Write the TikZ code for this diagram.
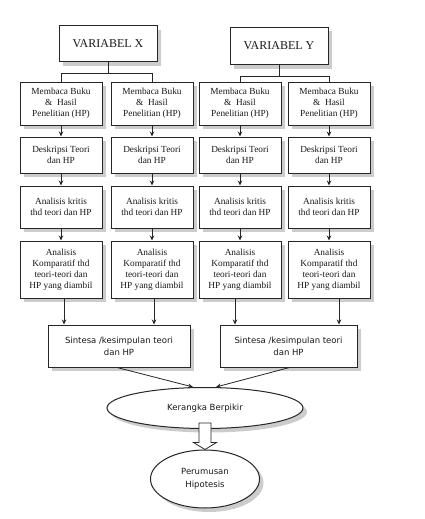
\documentclass[tikz,border=0pt]{standalone}
\usepackage{fontspec}
\setmainfont{Liberation Serif}
\newfontfamily\vsans{DejaVu Sans}
\usetikzlibrary{shapes.geometric,shadows,arrows.meta,calc}
\begin{document}
\begin{tikzpicture}[x=1pt,y=-1pt,
  shd/.style={drop shadow={shadow xshift=4pt,shadow yshift=-4pt,fill=black!20,opacity=1}},
  box/.style={draw=black!85,line width=1pt,fill=white,align=center,inner sep=1pt,shd,
    text=black!90,font=\fontsize{9.3}{11}\selectfont},
  vbox/.style={box,minimum width=98pt,font=\fontsize{12}{14}\selectfont},
  r1/.style={box,minimum width=82pt,minimum height=43pt},
  r2/.style={box,minimum width=82pt,minimum height=36pt},
  r3/.style={box,minimum width=82pt,minimum height=42pt},
  r4/.style={box,minimum width=82pt,minimum height=57pt},
  sbox/.style={box,minimum height=42pt,font=\vsans\fontsize{8.5}{12}\selectfont},
  ell/.style={draw=black!85,line width=1pt,fill=white,ellipse,inner sep=0pt,align=center,shd,
    text=black!90,font=\vsans\fontsize{8.5}{12.5}\selectfont},
  arr/.style={-{Stealth[length=5pt,width=4.5pt]},line width=0.8pt,draw=black!85},
  ln/.style={line width=0.8pt,draw=black!85}]
\fill[white] (0,0) rectangle (424,519);
\useasboundingbox (0,0) rectangle (424,519);

% top boxes
\node[vbox,minimum height=36pt] (X) at (108,44) {VARIABEL X};
\node[vbox,minimum height=37pt] (Y) at (279,46) {VARIABEL Y};

% columns
\foreach \c/\x in {1/61,2/152,3/240,4/329}{
  \node[r1] (c\c r1) at (\x,103.5) {Membaca Buku\\ \& \ Hasil\\ Penelitian (HP)};
  \node[r2] (c\c r2) at (\x,155) {Deskripsi Teori\\ dan HP};
  \node[r3] (c\c r3) at (\x,207) {Analisis kritis\\ thd teori dan HP};
  \node[r4] (c\c r4) at (\x,269.5) {Analisis\\ Komparatif thd\\ teori-teori dan\\ HP yang diambil};
  \draw[arr] (c\c r1) -- (c\c r2);
  \draw[arr] (c\c r2) -- (c\c r3);
  \draw[arr] (c\c r3) -- (c\c r4);
}

% brackets
\coordinate (bx) at ([yshift=8pt]c1r1.north);
\draw[ln] (X.south) -- (X.south |- bx);
\draw[ln] (c1r1.north) -- (bx) -| (c2r1.north);
\coordinate (by) at ([yshift=5pt]c3r1.north);
\draw[ln] (Y.south) -- (Y.south |- by);
\draw[ln] (c3r1.north) -- (by) -| (c4r1.north);

% sintesa
\node[sbox,minimum width=142pt] (sL) at (119,346) {Sintesa /kesimpulan teori\\ dan HP};
\node[sbox,minimum width=137pt] (sR) at (288.5,346) {Sintesa /kesimpulan teori\\ dan HP};

\coordinate (a1) at ([xshift=3pt]c1r4.south);
\coordinate (a2) at ([xshift=2pt]c2r4.south);
\coordinate (a3) at ([xshift=-5pt]c3r4.south);
\coordinate (a4) at ([xshift=10pt]c4r4.south);
\draw[arr] (a1) -- (a1 |- sL.north);
\draw[arr] (a2) -- (a2 |- sL.north);
\draw[arr] (a3) -- (a3 |- sR.north);
\draw[arr] (a4) -- (a4 |- sR.north);

% ellipses
\node[ell,minimum width=196pt,minimum height=41pt] (K) at (205,408) {Kerangka Berpikir};
\node[ell,minimum width=109pt,minimum height=58pt] (P) at (205,479) {Perumusan\\ Hipotesis};

\draw[arr] ([xshift=-2pt]sL.south) -- ([xshift=-12pt]K.north);
\draw[arr] ([xshift=1pt]sR.south) -- ([xshift=11pt]K.north);

% hollow arrow
\draw[ln,fill=white,line join=miter]
  ([xshift=-6pt,yshift=6pt]K.south) -- ([xshift=-6pt,yshift=7pt]P.north)
  -- ([xshift=-11.5pt,yshift=7pt]P.north) -- (P.north)
  -- ([xshift=11.5pt,yshift=7pt]P.north) -- ([xshift=6pt,yshift=7pt]P.north)
  -- ([xshift=6pt,yshift=6pt]K.south) -- cycle;
\end{tikzpicture}
\end{document}
